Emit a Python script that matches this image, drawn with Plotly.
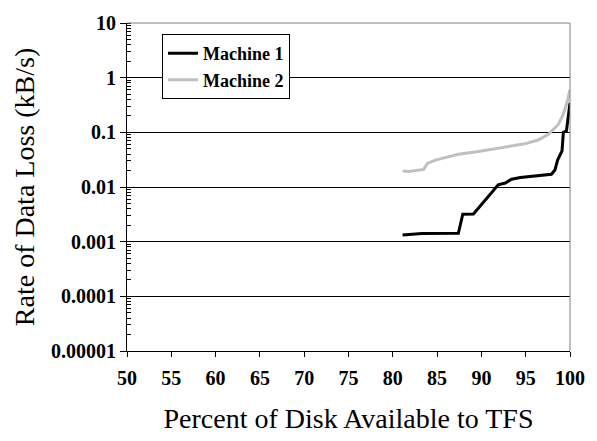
import plotly.graph_objects as go

# Machine 1 (black) - percent of disk vs rate of data loss
m1_x = [81.1, 83.3, 87.4, 87.9, 89.1, 91.9, 92.7, 93.4, 94.4, 96.4, 97.9, 98.3, 98.6, 99.1, 99.25, 99.6, 100.0]
m1_y = [0.00133, 0.00141, 0.00142, 0.00318, 0.0032, 0.011, 0.0118, 0.0139, 0.0149, 0.016, 0.0171, 0.0205, 0.031, 0.0456, 0.1, 0.107, 0.346]

# Machine 2 (gray)
m2_x = [81.1, 81.8, 83.5, 83.9, 84.8, 85.9, 87.4, 89.3, 91.2, 93.1, 94.9, 96.4, 97.6, 98.7, 99.25, 99.7, 100.0]
m2_y = [0.0196, 0.0192, 0.021, 0.027, 0.031, 0.034, 0.0397, 0.0437, 0.0489, 0.0537, 0.0616, 0.0724, 0.093, 0.141, 0.214, 0.37, 0.6]

y_tickvals = [0.00001, 0.0001, 0.001, 0.01, 0.1, 1, 10]
y_ticktext = ["0.00001", "0.0001", "0.001", "0.01", "0.1", "1", "10"]

SERIF = "Liberation Serif"

fig = go.Figure()
fig.add_trace(go.Scatter(x=m1_x, y=m1_y, mode="lines", name="Machine 1",
                         line=dict(color="black", width=3)))
fig.add_trace(go.Scatter(x=m2_x, y=m2_y, mode="lines", name="Machine 2",
                         line=dict(color="#c0c0c0", width=3)))

fig.update_layout(
    width=597, height=441,
    margin=dict(l=127, r=26, t=17, b=90),
    paper_bgcolor="white", plot_bgcolor="white",
    font=dict(family=SERIF, color="black"),
    showlegend=True,
    legend=dict(
        x=0.079, y=0.966, xanchor="left", yanchor="top",
        bgcolor="white", bordercolor="black", borderwidth=1,
        font=dict(family=SERIF, size=18, color="black", weight="bold"),
        tracegroupgap=0, itemwidth=30,
    ),
    xaxis=dict(
        range=[50, 100], dtick=5, tick0=50,
        ticks="outside", ticklen=5, tickcolor="black",
        showline=True, linecolor="black", linewidth=1,
        showgrid=False, zeroline=False,
        ticklabelstandoff=4,
        tickfont=dict(family=SERIF, size=20, color="black", weight="bold"),
        title=dict(text="Percent of Disk Available to TFS",
                   font=dict(family=SERIF, size=28, color="black"), standoff=20),
    ),
    yaxis=dict(
        type="log", range=[-5, 1],
        tickvals=y_tickvals, ticktext=y_ticktext,
        ticks="outside", ticklen=6, tickcolor="black",
        showline=True, linecolor="black", linewidth=1,
        showgrid=True, gridcolor="black", gridwidth=1,
        zeroline=False,
        tickfont=dict(family=SERIF, size=20, color="black", weight="bold"),
        minor=dict(ticks="inside", ticklen=4, tickcolor="black", dtick="D1", showgrid=False),
        title=dict(text="Rate of Data Loss (kB/s)",
                   font=dict(family=SERIF, size=28, color="black"), standoff=8),
    ),
    shapes=[
        dict(type="line", xref="paper", yref="paper", x0=0, x1=1, y0=1, y1=1,
             line=dict(color="#808080", width=1), layer="above"),
        dict(type="line", xref="paper", yref="paper", x0=1, x1=1, y0=0, y1=1,
             line=dict(color="#808080", width=1), layer="above"),
    ],
)

fig.write_html("out.html", config={"displayModeBar": False},
               post_script="document.body.style.margin='0px';")
